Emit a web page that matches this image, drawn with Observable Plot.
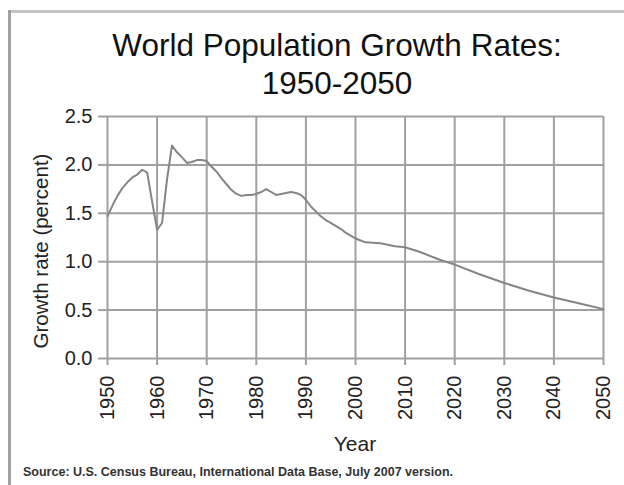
<!DOCTYPE html>
<html>
<head>
<meta charset="utf-8">
<script src="https://cdn.jsdelivr.net/npm/d3@7"></script>
<script src="https://cdn.jsdelivr.net/npm/@observablehq/plot@0.6"></script>
<style>
  html, body { margin: 0; padding: 0; background: #fff; }
  #wrap { position: relative; width: 624px; height: 485px; overflow: hidden; font-family: "Liberation Sans", Arial, sans-serif; }
  #wrap svg { position: absolute; left: 0; top: 0; }
  .abs { position: absolute; white-space: nowrap; }
</style>
</head>
<body>
<div id="wrap"></div>
<script>
const title = ["World Population Growth Rates:", "1950-2050"];
const yLabel = "Growth rate (percent)";
const xLabel = "Year";
const source = "Source: U.S. Census Bureau, International Data Base, July 2007 version.";

const years = [1950,1951,1952,1953,1954,1955,1956,1957,1958,1959,
  1960,1961,1962,1963,1964,1965,1966,1967,1968,1969,
  1970,1971,1972,1973,1974,1975,1976,1977,1978,1979,
  1980,1981,1982,1983,1984,1985,1986,1987,1988,1989,
  1990,1991,1992,1993,1994,1995,1996,1997,1998,1999,
  2000,2002,2005,2008,2010,2013,2017,2020,2025,2030,2035,2040,2045,2050];
const rates = [1.47,1.58,1.68,1.76,1.82,1.87,1.90,1.95,1.92,1.62,
  1.33,1.40,1.85,2.20,2.13,2.08,2.02,2.03,2.05,2.05,
  2.04,1.98,1.93,1.86,1.80,1.74,1.70,1.68,1.69,1.69,
  1.70,1.72,1.75,1.72,1.69,1.70,1.71,1.72,1.71,1.69,
  1.64,1.57,1.52,1.47,1.43,1.40,1.37,1.34,1.30,1.27,
  1.24,1.20,1.19,1.16,1.15,1.10,1.02,0.97,0.87,0.78,0.70,0.63,0.57,0.51];
const xTicks = [1950,1960,1970,1980,1990,2000,2010,2020,2030,2040,2050];
const yTicks = [0,0.5,1.0,1.5,2.0,2.5];

const data = years.map((y, i) => ({year: y, rate: rates[i]}));
const gridColor = "#a0a0a0";

const chart = Plot.plot({
  width: 624,
  height: 485,
  marginTop: 116,
  marginBottom: 127,
  marginLeft: 107,
  marginRight: 21,
  style: {fontFamily: "'Liberation Sans', Arial, sans-serif", color: "#222", background: "transparent"},
  x: {domain: [1950, 2050]},
  y: {domain: [0, 2.5]},
  marks: [
    Plot.gridX(xTicks, {stroke: gridColor, strokeOpacity: 1, strokeWidth: 2}),
    Plot.gridY(yTicks, {stroke: gridColor, strokeOpacity: 1, strokeWidth: 2}),
    Plot.axisX(xTicks, {tickFormat: d => String(d), tickRotate: -90, tickSize: 7, tickPadding: 10,
      fontSize: 20, stroke: gridColor, strokeWidth: 2, label: null, fill: "#222"}),
    Plot.axisY(yTicks, {tickFormat: d3.format(".1f"), tickSize: 9, tickPadding: 6,
      fontSize: 20, stroke: gridColor, strokeWidth: 2, label: null, fill: "#222"}),
    Plot.line(data, {x: "year", y: "rate", stroke: "#858585", strokeWidth: 2})
  ]
});

const wrap = document.getElementById("wrap");
wrap.appendChild(chart);

function addDiv(text, css) {
  const d = document.createElement("div");
  d.className = "abs";
  d.textContent = text;
  Object.assign(d.style, css);
  wrap.appendChild(d);
  return d;
}
// frame borders
addDiv("", {left: "8px", top: "10px", width: "616px", height: "3px", background: "#c4c4c4"});
addDiv("", {left: "8px", top: "10px", width: "3px", height: "475px", background: "#a0a0a0"});

const t = document.createElement("div");
t.className = "abs";
Object.assign(t.style, {left: "40px", width: "594px", top: "26px", textAlign: "center",
  fontSize: "31.5px", lineHeight: "38px", color: "#111"});
title.forEach((line, i) => {
  const s = document.createElement("div");
  s.textContent = line;
  t.appendChild(s);
});
wrap.appendChild(t);

addDiv(yLabel, {left: "40px", top: "251px", fontSize: "20.5px", lineHeight: "21px", color: "#222",
  transform: "translate(-50%, -50%) rotate(-90deg)"});
addDiv(xLabel, {left: "355px", top: "433px", fontSize: "21px", lineHeight: "21px", color: "#222",
  transform: "translateX(-50%)"});
addDiv(source, {left: "23px", top: "466px", fontSize: "12.5px", lineHeight: "13px", fontWeight: "bold", color: "#333"});
</script>
</body>
</html>
